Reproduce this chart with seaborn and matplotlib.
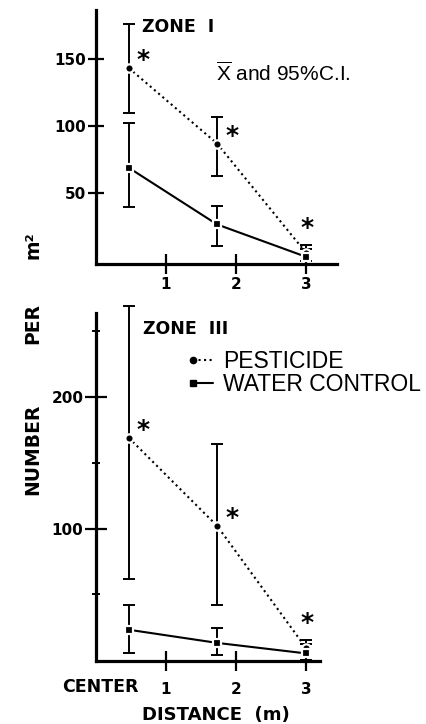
import numpy as np
import matplotlib
matplotlib.use("Agg")
import matplotlib.pyplot as plt
import seaborn as sns
from matplotlib.lines import Line2D
from matplotlib.legend_handler import HandlerLine2D

# distance from center (m)
dist = [0.47, 1.73, 3.0]

# Zone I: means and 95% C.I. (number per m^2)
z1_pest_mean = [143, 87, 6]
z1_pest_lo = [110, 63, 0]
z1_pest_hi = [176, 107, 12]
z1_water_mean = [69, 27, 3]
z1_water_lo = [40, 11, 0]
z1_water_hi = [102, 41, 9]

# Zone III
z3_pest_mean = [169, 102, 9]
z3_pest_lo = [62, 42, 0]
z3_pest_hi = [269, 164, 15]
z3_water_mean = [23, 13, 5]
z3_water_lo = [5, 4, 0]
z3_water_hi = [42, 24, 12]

sns.set_theme(style="ticks")
plt.rcParams["font.family"] = ["DejaVu Sans"]
plt.rcParams["mathtext.fontset"] = "custom"
plt.rcParams["mathtext.rm"] = "Liberation Sans"
for k in ["text.color", "axes.labelcolor", "xtick.color", "ytick.color",
          "axes.edgecolor"]:
    plt.rcParams[k] = "black"


class FirstMarkerHandler(HandlerLine2D):
    # legend key with the marker only at the left end of the line
    def create_artists(self, legend, orig_handle, xdescent, ydescent,
                       width, height, fontsize, trans):
        artists = super().create_artists(legend, orig_handle, xdescent,
                                         ydescent, width, height, fontsize,
                                         trans)
        artists[-1].set_markevery([0])
        return artists


def draw_series(ax, mean, lo, hi, ls, marker):
    mean = np.array(mean)
    yerr = [mean - np.array(lo), np.array(hi) - mean]
    ax.errorbar(dist, mean, yerr=yerr, fmt="none", ecolor="black",
                elinewidth=1.4, capsize=4.5, capthick=1.4, zorder=2,
                clip_on=False)
    sns.lineplot(x=dist, y=mean, ax=ax, color="black", linestyle=ls,
                 linewidth=1.5, marker=marker, markersize=6,
                 markerfacecolor="black", markeredgecolor="white",
                 markeredgewidth=1.6, zorder=3, clip_on=False)


def style_axes(ax):
    sns.despine(ax=ax)
    for s in ["left", "bottom"]:
        ax.spines[s].set_linewidth(2.3)
        ax.spines[s].set_color("black")
    ax.set_facecolor("white")


def add_stars(ax, means):
    offs = [(14, 8), (15, 8), (1, 25)]
    for x, y, o in zip(dist, means, offs):
        ax.annotate("*", (x, y), xytext=o, textcoords="offset pixels",
                    ha="center", va="center", fontsize=18, fontweight="bold",
                    color="black")


fig = plt.figure(figsize=(4.27, 7.24), dpi=100)
fig.patch.set_facecolor("white")

# ---- Zone I ----
ax1 = fig.add_axes([0.2248, 0.636, 0.564, 0.350])
draw_series(ax1, z1_pest_mean, z1_pest_lo, z1_pest_hi, ":", "o")
draw_series(ax1, z1_water_mean, z1_water_lo, z1_water_hi, "-", "s")
add_stars(ax1, z1_pest_mean)
ax1.set_xlim(0, 3.44)
ax1.set_ylim(-2, 186)
ax1.set_xticks([1, 2, 3])
ax1.set_xticklabels(["1", "2", "3"])
ax1.set_yticks([50, 100, 150])
ax1.set_yticklabels(["50", "100", "150"])
style_axes(ax1)
ax1.tick_params(axis="y", direction="inout", length=12, width=1.6, pad=1,
                labelsize=11)
ax1.tick_params(axis="x", direction="inout", length=14, width=1.6, pad=3,
                labelsize=11)
for lab in ax1.get_xticklabels() + ax1.get_yticklabels():
    lab.set_fontweight("bold")
ax1.text(0.19, 0.935, "ZONE  I", transform=ax1.transAxes, fontsize=12.5,
         fontweight="bold", va="center", ha="left")
ax1.text(0.5, 0.75, r"$\overline{\mathrm{X}}$ and 95%C.I.", transform=ax1.transAxes,
         fontsize=15, va="center", ha="left", family="Liberation Sans")

# ---- Zone III ----
ax2 = fig.add_axes([0.2248, 0.0866, 0.525, 0.481])
draw_series(ax2, z3_pest_mean, z3_pest_lo, z3_pest_hi, ":", "o")
draw_series(ax2, z3_water_mean, z3_water_lo, z3_water_hi, "-", "s")
add_stars(ax2, z3_pest_mean)
ax2.set_xlim(0, 3.2)
ax2.set_ylim(-1, 264)
ax2.set_xticks([1, 2, 3])
ax2.set_xticklabels(["1", "2", "3"])
ax2.set_yticks([100, 200])
ax2.set_yticklabels(["100", "200"])
ax2.set_yticks([50, 150, 250], minor=True)
style_axes(ax2)
ax2.tick_params(axis="y", which="major", direction="inout", length=16,
                width=1.6, pad=1, labelsize=11)
ax2.tick_params(axis="y", which="minor", direction="inout", length=6,
                width=1.4, left=True)
ax2.tick_params(axis="x", direction="inout", length=14, width=1.6, pad=8,
                labelsize=11)
for lab in ax2.get_xticklabels() + ax2.get_yticklabels():
    lab.set_fontweight("bold")
ax2.text(0.21, 0.955, "ZONE  III", transform=ax2.transAxes, fontsize=12.5,
         fontweight="bold", va="center", ha="left")

handles = [
    Line2D([], [], color="black", linestyle=":", linewidth=1.5, marker="o",
           markersize=4.5),
    Line2D([], [], color="black", linestyle="-", linewidth=1.5, marker="s",
           markersize=4.5),
]
leg = ax2.legend(handles, ["PESTICIDE", "WATER CONTROL"], loc="upper left",
                 bbox_to_anchor=(0.40, 0.895), frameon=False, numpoints=2,
                 handlelength=1.5, handletextpad=0.12, labelspacing=0.0,
                 borderpad=0, borderaxespad=0,
                 handler_map={Line2D: FirstMarkerHandler()},
                 prop={"family": "Liberation Sans", "size": 16.5})

# axis titles
fig.text(0.234, 1 - 687 / 724, "CENTER", fontsize=12.5, fontweight="bold",
         ha="center", va="center")
fig.text(0.505, 1 - 715 / 724, "DISTANCE  (m)", fontsize=13, fontweight="bold",
         ha="center", va="center")
fig.text(0.077, 1 - 449 / 724, "NUMBER", rotation=90, fontsize=13.5,
         fontweight="bold", ha="center", va="center")
fig.text(0.077, 1 - 323 / 724, "PER", rotation=90, fontsize=13.5,
         fontweight="bold", ha="center", va="center")
fig.text(0.077, 1 - 245 / 724, "m²", rotation=90, fontsize=13.5,
         fontweight="bold", ha="center", va="center")

fig.savefig("out.png", dpi=100, facecolor="white")
